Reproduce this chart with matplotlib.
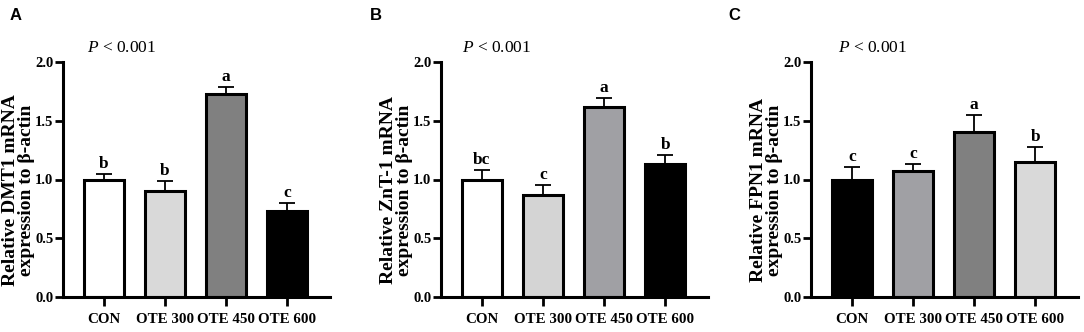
import matplotlib
matplotlib.use('Agg')
import matplotlib.pyplot as plt
import numpy as np

categories = ['CON', 'OTE 300', 'OTE 450', 'OTE 600']

dmt1_mean = [1.00, 0.905, 1.73, 0.73]
dmt1_err = [0.05, 0.082, 0.057, 0.07]
dmt1_letters = ['b', 'b', 'a', 'c']

znt1_mean = [1.00, 0.865, 1.62, 1.13]
znt1_err = [0.08, 0.09, 0.07, 0.08]
znt1_letters = ['bc', 'c', 'a', 'b']

fpn1_mean = [1.00, 1.07, 1.407, 1.151]
fpn1_err = [0.105, 0.06, 0.142, 0.123]
fpn1_letters = ['c', 'c', 'a', 'b']

panel_labels = ['A', 'B', 'C']
ylabels = ['Relative DMT1 mRNA\nexpression to β-actin',
           'Relative ZnT-1 mRNA\nexpression to β-actin',
           'Relative FPN1 mRNA\nexpression to β-actin']
yticks = [0.0, 0.5, 1.0, 1.5, 2.0]
ytick_labels = ['0.0', '0.5', '1.0', '1.5', '2.0']

colors_a = ['white', '#d9d9d9', '#808080', 'black']
colors_b = ['white', '#d4d4d4', '#a0a0a4', 'black']
colors_c = ['black', '#a0a0a4', '#808080', '#d9d9d9']

plt.rcParams['font.family'] = ['Liberation Serif', 'DejaVu Serif']
plt.rcParams['font.weight'] = 'bold'
plt.rcParams['mathtext.fontset'] = 'custom'
plt.rcParams['mathtext.it'] = 'Liberation Serif:italic:normal'
plt.rcParams['mathtext.rm'] = 'Liberation Serif:normal'

fig = plt.figure(figsize=(10.84, 3.32), dpi=100)

lefts = [63 / 1084, 441 / 1084, 811 / 1084]
width = 267 / 1084
bottom = 1 - 297 / 332
height = 235 / 332
p_x = [0.09, 0.078, 0.10]
letter_x = [10 / 1084, 370 / 1084, 728 / 1084]

datasets = [
    (dmt1_mean, dmt1_err, dmt1_letters, colors_a),
    (znt1_mean, znt1_err, znt1_letters, colors_b),
    (fpn1_mean, fpn1_err, fpn1_letters, colors_c),
]

for i, (means, errs, letters, cols) in enumerate(datasets):
    ax = fig.add_axes([lefts[i], bottom, width, height])
    x = np.arange(len(categories))
    ax.bar(x, means, width=0.65, color=cols, edgecolor='black',
           linewidth=2.2, zorder=2)
    ax.errorbar(x, means, yerr=[np.zeros(len(errs)), errs], fmt='none',
                ecolor='black', elinewidth=1.3, capsize=6, capthick=1.3,
                zorder=3)
    for xi, m, e, l in zip(x, means, errs, letters):
        ax.annotate(l, (xi, m + e), xytext=(0, 1.5), textcoords='offset points',
                    ha='center', va='bottom', fontsize=12.5, fontweight='bold')
    ax.set_xlim(-0.67, 3.7)
    ax.set_ylim(0, 2.0)
    ax.set_yticks(yticks)
    ax.set_yticklabels(ytick_labels, fontsize=10.5, fontweight='bold')
    ax.set_xticks(x)
    ax.set_xticklabels(categories, fontsize=10.8, fontweight='bold')
    for s in ['top', 'right']:
        ax.spines[s].set_visible(False)
    for s in ['left', 'bottom']:
        ax.spines[s].set_linewidth(2.2)
    ax.tick_params(axis='y', direction='out', length=6, width=2, pad=1)
    ax.tick_params(axis='x', direction='out', length=6.5, width=2, pad=5)
    ax.set_ylabel(ylabels[i], fontsize=14, fontweight='bold',
                  linespacing=0.92, va='center')
    ax.yaxis.set_label_coords(-0.165, 0.455)
    ax.text(p_x[i], 1.06, r'$\mathit{P}$ < 0.001', transform=ax.transAxes,
            ha='left', va='center', fontsize=12.5, fontweight='normal')
    fig.text(letter_x[i], 1 - 16 / 332, panel_labels[i], ha='left', va='center',
             fontsize=12, fontweight='bold', family='Liberation Sans')

fig.savefig('out.png', dpi=100)
